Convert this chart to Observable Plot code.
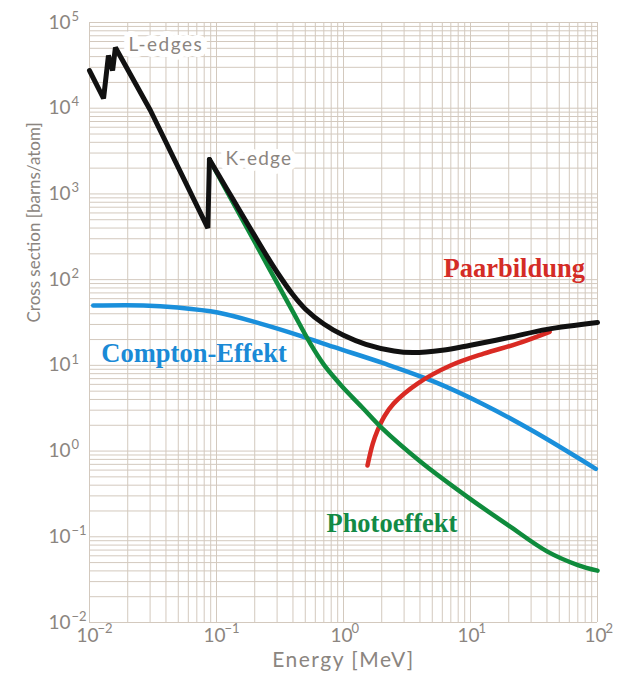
<!DOCTYPE html>
<html><head><meta charset="utf-8">
<script src="https://cdn.jsdelivr.net/npm/d3@7"></script>
<script src="https://cdn.jsdelivr.net/npm/@observablehq/plot@0.6"></script>
<style>body{margin:0;background:#fff;}</style>
</head><body><div id="chart"></div>
<script>
// Total cross section (black): L- and K-edge part, then smooth part
const totalEdgeE = [0.0100, 0.0129, 0.0141, 0.0152, 0.0160, 0.0302, 0.0855, 0.0880];
const totalEdgeS = [27500, 13000, 41200, 27500, 51000, 9400, 400, 2520];
const totalE = [0.0880, 0.12, 0.15, 0.2, 0.25, 0.3, 0.4, 0.5, 0.7, 1.0, 1.5, 2.5, 3.5, 6, 10, 20, 40, 100];
const totalS = [2520, 1160, 664, 324, 187, 122, 66.5, 45.5, 30.4, 22.4, 17.6, 14.7, 14.1, 15.0, 17.2, 21.1, 26.3, 31.6];
// Photoeffekt (green)
const photoE = [0.0880, 0.15, 0.25, 0.4, 0.55, 0.7, 0.85, 1.0, 1.4, 2, 4, 10, 20, 40, 70, 100];
const photoS = [2520, 596, 150, 42, 17.8, 10.2, 7.16, 5.43, 3.24, 1.86, 0.76, 0.275, 0.135, 0.0676, 0.0468, 0.0403];
// Compton-Effekt (blue)
const comptonE = [0.0107, 0.0266, 0.0493, 0.102, 0.222, 0.458, 0.834, 2.06, 5.11, 12.7, 31.3, 97];
const comptonS = [49.9, 50, 47.2, 41.3, 30.7, 22.1, 16.4, 10.6, 6.5, 3.5, 1.7, 0.62];
// Paarbildung (red)
const pairE = [1.545, 1.70, 1.85, 2.10, 2.48, 3.83, 6.96, 12.7, 23.4, 42];
const pairS = [0.68, 1.22, 1.73, 2.55, 3.58, 6.13, 9.95, 13.7, 17.9, 24.6];

const xTicks = [1e-2, 1e-1, 1, 10, 100];
const yTicks = [1e-2, 1e-1, 1, 10, 100, 1e3, 1e4, 1e5];
const mantissas = [1, 2, 3, 4, 5, 6, 7, 8, 9];

const xGrid = xTicks.slice(0, -1).flatMap(d => mantissas.map(m => m * d)).concat([100]);
const yGrid = yTicks.slice(0, -1).flatMap(d => mantissas.map(m => m * d)).concat([1e5]);

const expo = d => String(Math.round(Math.log10(d))).replace("-", "\u2212");
const base = () => "10";

const rows = (E, S) => E.map((e, i) => ({e, s: S[i]}));

const gridColor = "#d3c9be";
const textColor = "#8b8580";
const axisFont = "Lato, 'DejaVu Sans', sans-serif";
const serif = "'Liberation Serif', 'Times New Roman', serif";

const chart = Plot.plot({
  width: 617,
  height: 680,
  marginLeft: 89,
  marginRight: 20,
  marginTop: 22,
  marginBottom: 58,
  style: {background: "#ffffff", fontFamily: axisFont},
  x: {type: "log", domain: [1e-2, 1e2]},
  y: {type: "log", domain: [1e-2, 1e5]},
  marks: [
    Plot.ruleX(xGrid, {x: d => d, stroke: gridColor, strokeWidth: 1}),
    Plot.ruleY(yGrid, {y: d => d, stroke: gridColor, strokeWidth: 1}),
    Plot.axisX(xTicks, {tickSize: 0, tickPadding: 6, tickFormat: base, dx: -2, fontSize: 19, fill: textColor, label: null}),
    Plot.axisX(xTicks, {tickSize: 0, tickPadding: 6, tickFormat: expo, textAnchor: "start", dx: 8, dy: -5, fontSize: 13, fill: textColor, label: null}),
    Plot.axisY(yTicks, {tickSize: 0, tickPadding: 19, tickFormat: base, fontSize: 19, fill: textColor, label: null}),
    Plot.axisY(yTicks, {tickSize: 0, tickPadding: 18, tickFormat: expo, textAnchor: "start", dy: -6, fontSize: 13, fill: textColor, label: null}),
    Plot.text(["Energy [MeV]"], {text: d => d, frameAnchor: "bottom", dy: 44, fontSize: 21, fill: textColor}),
    Plot.text(["Cross section [barns/atom]"], {text: d => d, frameAnchor: "left", dx: -55, rotate: -90, fontSize: 17, fill: textColor}),
    Plot.text(["L-edges"], {x: 0.0203, y: 55000, text: d => d, textAnchor: "start", fontSize: 19, fill: textColor, stroke: "white", strokeWidth: 12}),
    Plot.text(["K-edge"], {x: 0.1178, y: 2590, text: d => d, textAnchor: "start", fontSize: 19, fill: textColor, stroke: "white", strokeWidth: 12}),
    Plot.line(rows(comptonE, comptonS), {x: "e", y: "s", stroke: "#1a8fdb", strokeWidth: 4.5, curve: "catmull-rom"}),
    Plot.line(rows(pairE, pairS), {x: "e", y: "s", stroke: "#d92a23", strokeWidth: 4.5, curve: "catmull-rom"}),
    Plot.line(rows(photoE, photoS), {x: "e", y: "s", stroke: "#0f8b3c", strokeWidth: 4.5, curve: "catmull-rom"}),
    Plot.line(rows(totalEdgeE, totalEdgeS), {x: "e", y: "s", stroke: "#111111", strokeWidth: 5, curve: "linear", strokeLinejoin: "miter"}),
    Plot.line(rows(totalE, totalS), {x: "e", y: "s", stroke: "#111111", strokeWidth: 5, curve: "catmull-rom"}),
    Plot.text(["Paarbildung"], {x: 6.13, y: 135, text: d => d, textAnchor: "start", fontSize: 26.5, fontWeight: "bold", fontFamily: serif, fill: "#d42c26"}),
    Plot.text(["Compton-Effekt"], {x: 0.0124, y: 13.7, text: d => d, textAnchor: "start", fontSize: 26.5, fontWeight: "bold", fontFamily: serif, fill: "#1a8ad6"}),
    Plot.text(["Photoeffekt"], {x: 0.734, y: 0.1426, text: d => d, textAnchor: "start", fontSize: 26.5, fontWeight: "bold", fontFamily: serif, fill: "#138a45"})
  ]
});
// letter spacing for the light grey labels (not a Plot text option)
const spacing = {"Energy [MeV]": 1.5, "L-edges": 1.5, "K-edge": 1.2};
d3.select(chart).selectAll("text").each(function() {
  const s = spacing[this.textContent];
  if (s) this.setAttribute("letter-spacing", s);
});
document.getElementById("chart").appendChild(chart);
</script>
</body></html>
